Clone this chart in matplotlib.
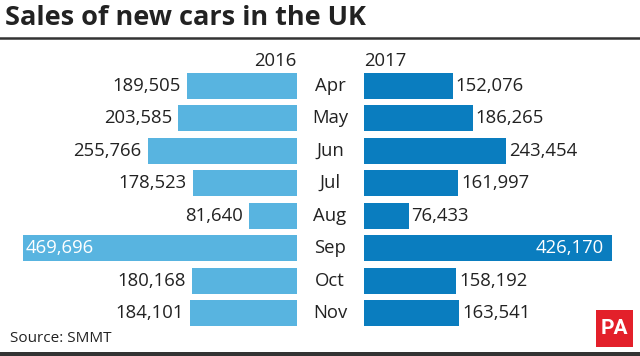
import matplotlib
matplotlib.use("Agg")
import matplotlib.pyplot as plt
from matplotlib.patches import Rectangle
from matplotlib.lines import Line2D

months = ["Apr", "May", "Jun", "Jul", "Aug", "Sep", "Oct", "Nov"]
sales_2016 = [189505, 203585, 255766, 178523, 81640, 469696, 180168, 184101]
sales_2017 = [152076, 186265, 243454, 161997, 76433, 426170, 158192, 163541]
inside_label_month = "Sep"

plt.rcParams['font.family'] = ['Open Sans', 'DejaVu Sans']

W, H = 640, 356
fig = plt.figure(figsize=(W / 100, H / 100), dpi=100)
fig.patch.set_facecolor("white")

units_per_px = 1715.0
pitch = 32.5
first_center = 85.7
ytop = -first_center / pitch
ybot = (H - first_center) / pitch

c16 = "#58b4e0"
c17 = "#0a7dbf"
txt = "#222222"

left_edge_px = 297
axL = fig.add_axes([0, 0, left_edge_px / W, 1])
axL.set_xlim(left_edge_px * units_per_px, 0)
axL.set_ylim(ybot, ytop)
axL.axis("off")

right_start_px = 364
axR = fig.add_axes([right_start_px / W, 0, (W - right_start_px) / W, 1])
axR.set_xlim(0, (W - right_start_px) * units_per_px)
axR.set_ylim(ybot, ytop)
axR.axis("off")

ypos = list(range(len(months)))
axL.barh(ypos, sales_2016, height=0.8, color=c16)
axR.barh(ypos, sales_2017, height=0.8, color=c17)

fs = 13.3
for i, (m, a, b) in enumerate(zip(months, sales_2016, sales_2017)):
    if m == inside_label_month:
        axL.text(a - 3 * units_per_px, i, f"{a:,}", ha="left", va="center",
                 color="white", fontsize=fs)
        axR.text(b - 9 * units_per_px, i, f"{b:,}", ha="right", va="center",
                 color="white", fontsize=fs)
    else:
        axL.text(a + 6 * units_per_px, i, f"{a:,}", ha="right", va="center",
                 color=txt, fontsize=fs)
        axR.text(b + 3 * units_per_px, i, f"{b:,}", ha="left", va="center",
                 color=txt, fontsize=fs)
    axL.text(-(330 - left_edge_px) * units_per_px, i, m, ha="center", va="center",
             color=txt, fontsize=fs, clip_on=False)

# year labels
year_y = (61 - first_center) / pitch
axL.text(0, year_y, "2016", ha="right", va="center", color=txt, fontsize=fs)
axR.text(0, year_y, "2017", ha="left", va="center", color=txt, fontsize=fs)

# title
fig.text(5 / W, 1 - 18 / H, "Sales of new cars in the UK", ha="left", va="center",
         fontsize=19.5, fontweight="bold", color="#222222")
fig.add_artist(Line2D([0, 1], [1 - 37.5 / H, 1 - 37.5 / H], transform=fig.transFigure,
                      color="#333333", linewidth=1.8))

# source
fig.text(10 / W, 1 - 339 / H, "Source: SMMT", ha="left", va="center", fontsize=11, color=txt)

# bottom bar
fig.add_artist(Rectangle((0, 0), 1, 4 / H, transform=fig.transFigure,
                         facecolor="#333333", edgecolor="none"))

# PA logo
fig.add_artist(Rectangle((596 / W, 1 - 347 / H), 37 / W, 37 / H, transform=fig.transFigure,
                         facecolor="#e3202a", edgecolor="none"))
fig.text(614.5 / W, 1 - 328.5 / H, "PA", ha="center", va="center", fontsize=15,
         fontweight="bold", color="white", family="Roboto", fontstretch="condensed")

fig.savefig("out.png", dpi=100, facecolor="white")
